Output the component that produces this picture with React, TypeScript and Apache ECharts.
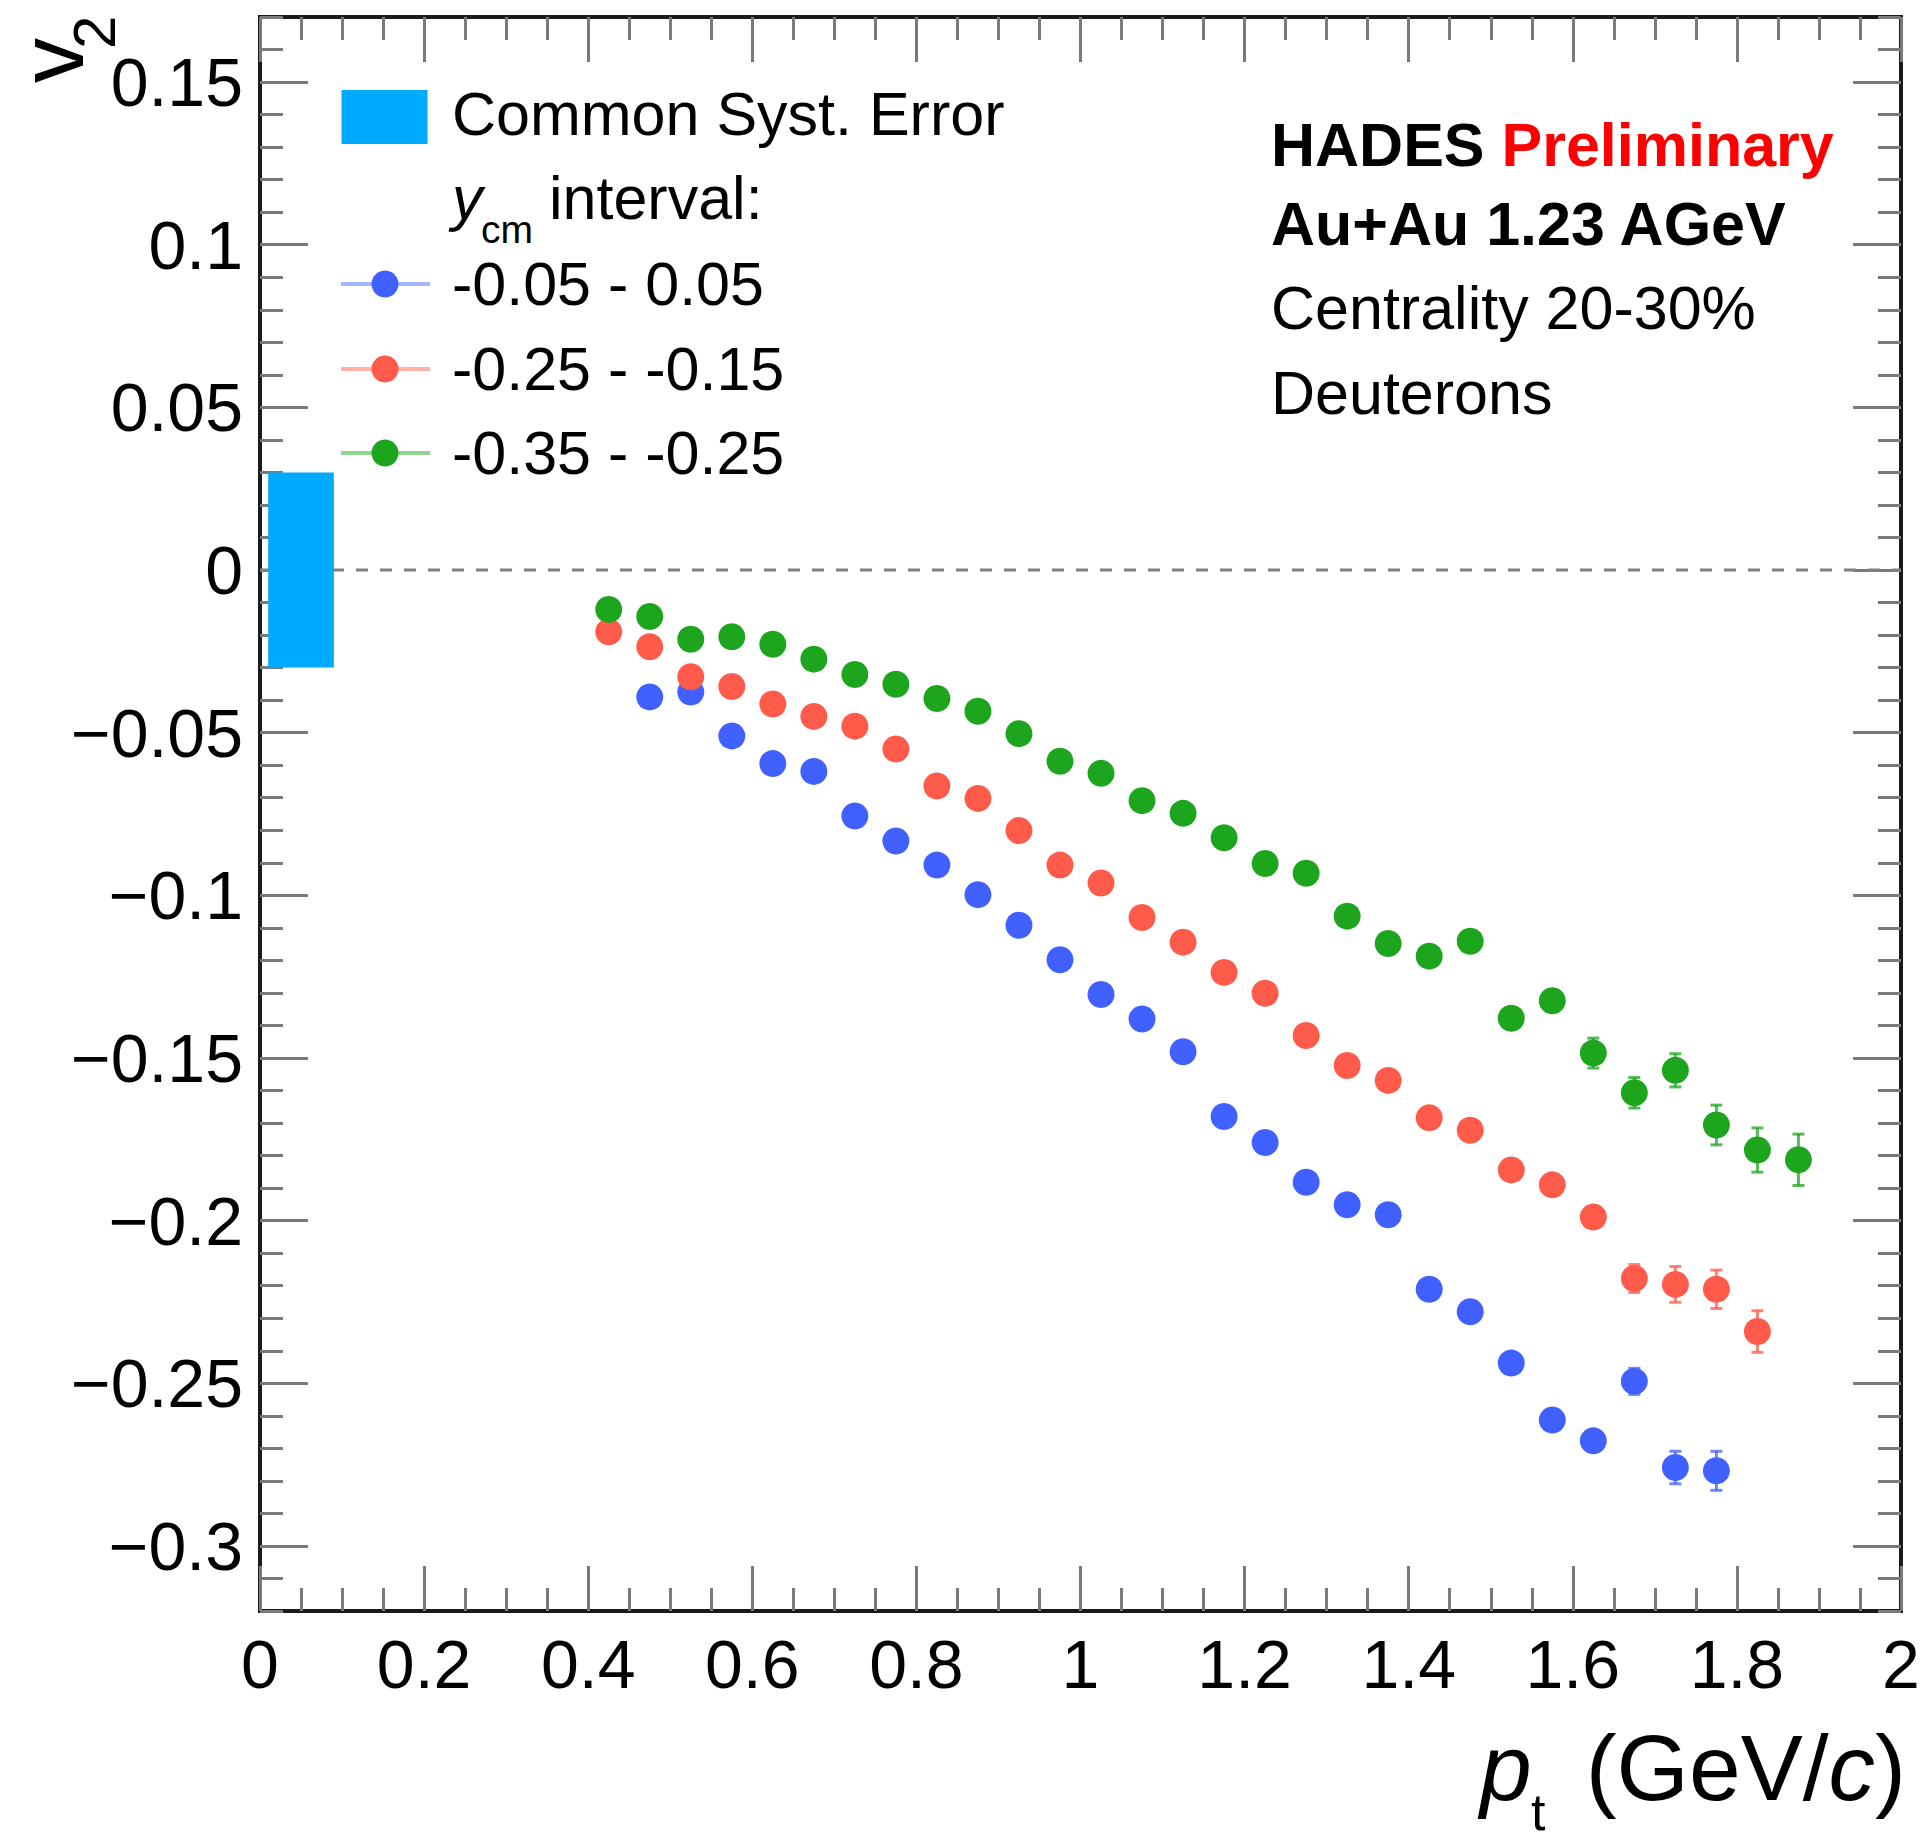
import React, { useEffect, useRef } from "react";
import * as echarts from "echarts";

const FONT = '"Liberation Sans", Arial, Helvetica, sans-serif';

// transverse momentum bin centres (GeV/c)
const ptBins = [
  0.425, 0.475, 0.525, 0.575, 0.625, 0.675, 0.725, 0.775, 0.825, 0.875,
  0.925, 0.975, 1.025, 1.075, 1.125, 1.175, 1.225, 1.275, 1.325, 1.375,
  1.425, 1.475, 1.525, 1.575, 1.625, 1.675, 1.725, 1.775, 1.825, 1.875,
];

// v2 values, y_cm -0.05 - 0.05 (from pt = 0.475 to 1.775)
const v2Blue = [
  -0.039, -0.0375, -0.051, -0.0595, -0.0619, -0.0756, -0.0833, -0.0907, -0.0998,
  -0.1092, -0.1198, -0.1305, -0.138, -0.1481, -0.168, -0.176, -0.1882, -0.1951,
  -0.1982, -0.2211, -0.228, -0.2438, -0.2613, -0.2677, -0.2494, -0.2759, -0.2769,
];
// v2 values, y_cm -0.25 - -0.15 (from pt = 0.425 to 1.825)
const v2Red = [
  -0.019, -0.0236, -0.0328, -0.0358, -0.0412, -0.045, -0.048, -0.055, -0.0664,
  -0.0702, -0.0801, -0.0907, -0.0962, -0.1068, -0.1144, -0.1237, -0.1301, -0.1431,
  -0.1523, -0.1569, -0.1684, -0.1722, -0.1844, -0.189, -0.1989, -0.2178, -0.2196,
  -0.2211, -0.2341,
];
// v2 values, y_cm -0.35 - -0.25 (from pt = 0.425 to 1.875)
const v2Green = [
  -0.0121, -0.0143, -0.0213, -0.0205, -0.0228, -0.0274, -0.0321, -0.0351, -0.0395,
  -0.0434, -0.0503, -0.0588, -0.0625, -0.0709, -0.0748, -0.0823, -0.0902, -0.0932,
  -0.1064, -0.1148, -0.1187, -0.1141, -0.1378, -0.1324, -0.1485, -0.1607, -0.1538,
  -0.1706, -0.1783, -0.1813,
];

// visible statistical errors: [pt, error]
const errBlue = [[1.675, 0.004], [1.725, 0.005], [1.775, 0.006]];
const errRed = [[1.675, 0.0043], [1.725, 0.0055], [1.775, 0.0059], [1.825, 0.0064]];
const errGreen = [
  [1.625, 0.0046], [1.675, 0.0047], [1.725, 0.0051], [1.775, 0.0061],
  [1.825, 0.0068], [1.875, 0.0079],
];

// common systematic error box
const systPt = [0.01, 0.09];
const systV2 = [-0.03, 0.03];

const xRange = [0, 2];
const yRange = [-0.32, 0.17];
const yMajorTicks = [-0.3, -0.25, -0.2, -0.15, -0.1, -0.05, 0, 0.05, 0.1, 0.15];

const groups = [
  { label: "-0.05 - 0.05", pts: ptBins.slice(1, 28), v2: v2Blue, errs: errBlue, color: "#4060ff", light: "#a7b4ff" },
  { label: "-0.25 - -0.15", pts: ptBins.slice(0, 29), v2: v2Red, errs: errRed, color: "#ff5a4a", light: "#ffb0a8" },
  { label: "-0.35 - -0.25", pts: ptBins.slice(0, 30), v2: v2Green, errs: errGreen, color: "#1ea51e", light: "#90d490" },
];

const fmtX = (v: number) => String(Math.round(v * 10) / 10);
const fmtY = (v: number) => {
  const r = Math.round(v * 100) / 100;
  return r === 0 ? "0" : String(r).replace("-", "\u2212");
};

export default function App() {
  const ref = useRef<HTMLDivElement>(null);

  useEffect(() => {
    if (!ref.current) return;
    const chart = echarts.init(ref.current, null, { renderer: "svg" });

    const tickStyle = { color: "#7a7a7a", width: 3 };
    const xBase = {
      type: "value",
      min: xRange[0],
      max: xRange[1],
      axisLine: { show: false, onZero: false },
      splitLine: { show: false },
    };
    const yBase = {
      type: "value",
      min: yRange[0],
      max: yRange[1],
      axisLine: { show: false, onZero: false },
      splitLine: { show: false },
    };

    const series: any[] = [];
    // zero line
    series.push({
      type: "line",
      data: [[xRange[0], 0], [xRange[1], 0]],
      symbol: "none",
      silent: true,
      z: 1,
      lineStyle: { color: "#808080", width: 3, type: [12, 12] },
    });
    // systematic box
    series.push({
      type: "custom",
      z: 2,
      silent: true,
      data: [[systPt[0], systPt[1], systV2[0], systV2[1]]],
      renderItem: (_p: any, api: any) => {
        const a = api.coord([api.value(0), api.value(3)]);
        const b = api.coord([api.value(1), api.value(2)]);
        return {
          type: "rect",
          shape: { x: a[0], y: a[1], width: b[0] - a[0], height: b[1] - a[1] },
          style: { fill: "#00aaff" },
        };
      },
    });
    groups.forEach((g) => {
      const errData = g.errs.map(([pt, e]) => {
        const i = g.pts.findIndex((p) => Math.abs(p - pt) < 1e-6);
        return [pt, g.v2[i], e];
      });
      series.push({
        type: "custom",
        z: 3,
        silent: true,
        data: errData,
        renderItem: (_p: any, api: any) => {
          const x = api.value(0);
          const y = api.value(1);
          const e = api.value(2);
          const t = api.coord([x, y + e]);
          const b = api.coord([x, y - e]);
          const st = { stroke: g.color, lineWidth: 3, opacity: 0.75 };
          return {
            type: "group",
            children: [
              { type: "line", shape: { x1: t[0], y1: t[1], x2: b[0], y2: b[1] }, style: st },
              { type: "line", shape: { x1: t[0] - 6, y1: t[1], x2: t[0] + 6, y2: t[1] }, style: st },
              { type: "line", shape: { x1: b[0] - 6, y1: b[1], x2: b[0] + 6, y2: b[1] }, style: st },
            ],
          };
        },
      });
      series.push({
        type: "scatter",
        z: 4,
        symbol: "circle",
        symbolSize: 27,
        itemStyle: { color: g.color, opacity: 1 },
        data: g.v2.map((v, i) => [g.pts[i], v]),
      });
    });

    const txt = (x: number, y: number, text: string, extra: any = {}) => ({
      type: "text",
      x,
      y,
      silent: true,
      style: {
        text,
        fontSize: 61,
        fontFamily: FONT,
        fill: "#000",
        align: "left",
        textAlign: "left",
        verticalAlign: "middle",
        textVerticalAlign: "middle",
        ...extra,
      },
    });

    const legendYs = [284, 369, 453];
    const elements: any[] = [
      // legend
      { type: "rect", silent: true, shape: { x: 341.5, y: 90, width: 86, height: 54 }, style: { fill: "#00aaff" } },
      txt(452, 114, "Common Syst. Error"),
      txt(452, 198, "y", { fontStyle: "italic" }),
      txt(481, 229, "cm", { fontSize: 39 }),
      txt(549, 198, "interval:"),
    ];
    groups.forEach((g, i) => {
      const y = legendYs[i];
      elements.push({
        type: "line",
        silent: true,
        shape: { x1: 341, y1: y, x2: 430, y2: y },
        style: { stroke: g.light, lineWidth: 4 },
      });
      elements.push({
        type: "circle",
        silent: true,
        shape: { cx: 385, cy: y, r: 13.5 },
        style: { fill: g.color },
      });
      elements.push(txt(452, y, g.label));
    });
    // info block
    elements.push({
      type: "text",
      x: 1271,
      y: 145,
      silent: true,
      style: {
        text: "{b|HADES }{r|Preliminary}",
        align: "left",
        textAlign: "left",
        verticalAlign: "middle",
        textVerticalAlign: "middle",
        rich: {
          b: { fontSize: 61, fontFamily: FONT, fontWeight: "bold", fill: "#000", color: "#000" },
          r: { fontSize: 61, fontFamily: FONT, fontWeight: "bold", fill: "#ff0000", color: "#ff0000" },
        },
      },
    });
    elements.push(txt(1271, 224, "Au+Au 1.23 AGeV", { fontWeight: "bold" }));
    elements.push(txt(1271, 308, "Centrality 20-30%"));
    elements.push(txt(1271, 393, "Deuterons"));
    // y axis title (rotated)
    elements.push({ ...txt(52, 83, "v", { fontSize: 90 }), rotation: Math.PI / 2 });
    elements.push({ ...txt(94, 49, "2", { fontSize: 60 }), rotation: Math.PI / 2 });
    // x axis title
    elements.push(txt(1480, 1768, "p", { fontSize: 93, fontStyle: "italic" }));
    elements.push(txt(1531, 1812, "t", { fontSize: 52 }));
    elements.push({
      type: "text",
      x: 1906,
      y: 1768,
      silent: true,
      style: {
        text: "{n|(GeV/}{i|c}{n|)}",
        align: "right",
        textAlign: "right",
        verticalAlign: "middle",
        textVerticalAlign: "middle",
        rich: {
          n: { fontSize: 93, fontFamily: FONT, fill: "#000", color: "#000" },
          i: { fontSize: 93, fontFamily: FONT, fontStyle: "italic", fill: "#000", color: "#000" },
        },
      },
    });

    const majX = { show: true, inside: true, length: 45, lineStyle: tickStyle };
    const minX = { show: true, inside: true, length: 23, lineStyle: tickStyle };
    const majY = { show: true, inside: true, length: 48, lineStyle: tickStyle, customValues: yMajorTicks };
    const minY = { show: true, inside: true, length: 23, lineStyle: tickStyle };

    chart.setOption({
      animation: false,
      backgroundColor: "#ffffff",
      grid: {
        left: 260,
        right: 25,
        top: 17,
        bottom: 236,
        show: true,
        borderColor: "#1a1a1a",
        borderWidth: 4,
        backgroundColor: "transparent",
        containLabel: false,
        outerBoundsMode: "none",
      },
      xAxis: [
        {
          ...xBase,
          position: "bottom",
          interval: 0.2,
          axisTick: majX,
          axisLabel: { show: true, fontSize: 68, fontFamily: FONT, color: "#000", margin: 19, formatter: fmtX },
        },
        { ...xBase, position: "bottom", interval: 0.05, axisTick: minX, axisLabel: { show: false } },
        { ...xBase, position: "top", interval: 0.2, axisTick: majX, axisLabel: { show: false } },
        { ...xBase, position: "top", interval: 0.05, axisTick: minX, axisLabel: { show: false } },
      ],
      yAxis: [
        {
          ...yBase,
          position: "left",
          axisTick: majY,
          axisLabel: {
            show: true,
            customValues: yMajorTicks,
            fontSize: 68,
            fontFamily: FONT,
            color: "#000",
            margin: 17,
            formatter: fmtY,
          },
        },
        { ...yBase, position: "left", interval: 0.01, axisTick: minY, axisLabel: { show: false } },
        { ...yBase, position: "right", axisTick: majY, axisLabel: { show: false } },
        { ...yBase, position: "right", interval: 0.01, axisTick: minY, axisLabel: { show: false } },
      ],
      series,
      graphic: { elements },
    });

    return () => chart.dispose();
  }, []);

  return (
    <div
      ref={ref}
      style={{ position: "absolute", left: 0, top: 0, width: "1926px", height: "1847px", background: "#fff" }}
    />
  );
}
